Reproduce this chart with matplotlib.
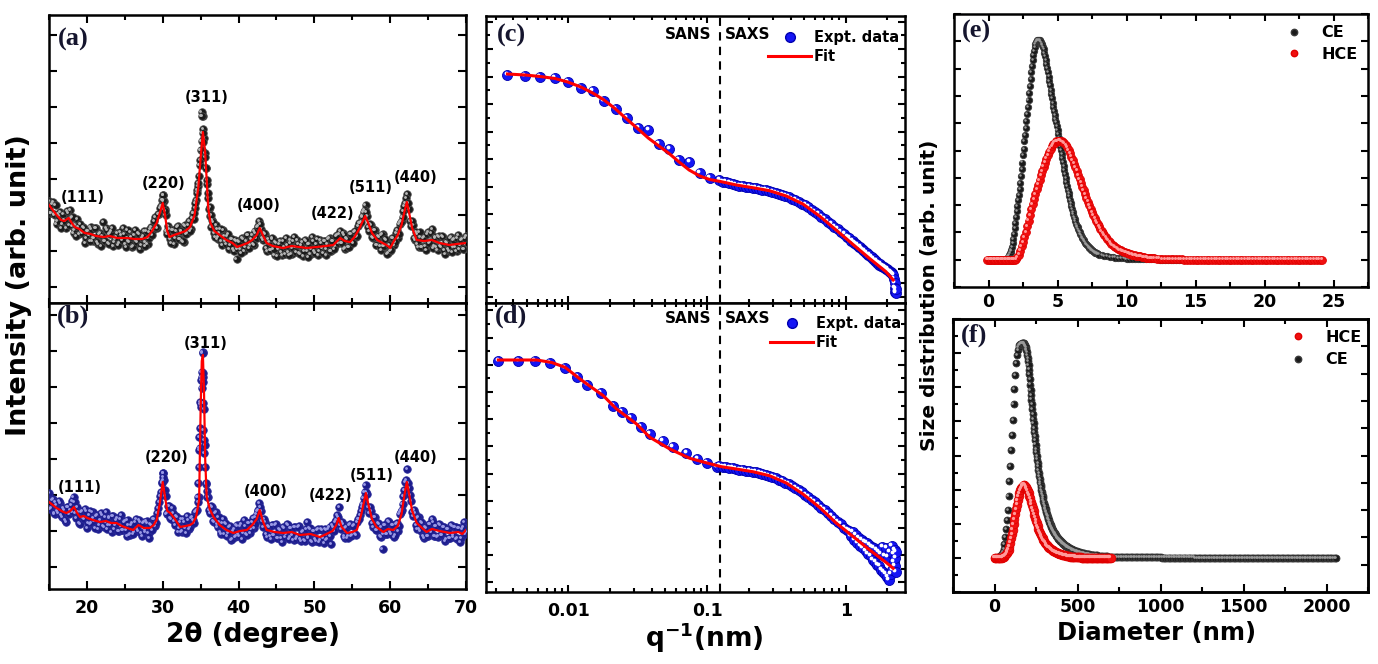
import numpy as np
import matplotlib
matplotlib.use("Agg")
import matplotlib.pyplot as plt
from matplotlib.lines import Line2D
from matplotlib.ticker import MultipleLocator, FixedLocator, LogLocator, NullFormatter
from matplotlib.transforms import ScaledTranslation

# ---------------- XRD, panels (a) and (b) ----------------
# counts are in arbitrary units (the axis has no labels)
# two interleaved scans: one on the 0.25 deg grid starting at 15.0, one half a step later
xrd_start, xrd_step = 15.0, 0.25

a_counts = [
    102, 90, 101, 88, 79, 89, 91, 79, 83, 75,
    90, 93, 77, 70, 78, 84, 69, 72, 76, 60,
    72, 68, 76, 62, 65, 75, 59, 70, 67, 62,
    75, 60, 69, 72, 57, 64, 70, 60, 68, 75,
    59, 65, 62, 71, 56, 68, 62, 70, 54, 65,
    72, 61, 59, 71, 76, 73, 86, 75, 89, 97,
    108, 94, 72, 77, 64, 73, 59, 72, 77, 64,
    72, 61, 77, 70, 82, 74, 90, 95, 113, 127,
    153, 187, 165, 135, 105, 87, 83, 70, 78, 64,
    70, 62, 73, 62, 67, 54, 64, 54, 63, 44,
    62, 54, 65, 52, 62, 68, 58, 68, 58, 70,
    76, 82, 74, 63, 69, 52, 61, 53, 64, 48,
    60, 54, 62, 48, 56, 65, 51, 60, 49, 62,
    56, 63, 50, 58, 47, 63, 52, 59, 49, 66,
    52, 59, 48, 63, 55, 62, 48, 59, 65, 52,
    62, 57, 68, 69, 60, 70, 54, 65, 56, 69,
    61, 71, 66, 77, 80, 86, 91, 98, 87, 72,
    78, 65, 73, 58, 66, 53, 69, 57, 63, 50,
    52, 65, 58, 70, 65, 79, 82, 92, 100, 109,
    94, 77, 78, 63, 69, 56, 66, 56, 66, 53,
    71, 61, 74, 57, 65, 53, 66, 56, 66, 49,
    60, 52, 66, 56, 64, 52, 68, 58, 64, 54,
    67]
a_counts_mid = [
    90, 99, 89, 98, 82, 87, 75, 89, 82, 92,
    78, 85, 86, 73, 67, 76, 79, 70, 75, 65,
    72, 62, 74, 65, 75, 61, 69, 57, 81, 62,
    73, 59, 70, 75, 61, 66, 58, 71, 63, 69,
    56, 73, 61, 66, 57, 73, 61, 69, 58, 67,
    57, 72, 65, 74, 68, 82, 76, 89, 95, 103,
    102, 88, 69, 74, 60, 73, 65, 76, 64, 72,
    62, 78, 69, 78, 72, 85, 84, 103, 117, 138,
    162, 174, 150, 119, 94, 76, 81, 66, 74, 66,
    74, 58, 67, 59, 69, 58, 64, 52, 62, 54,
    61, 50, 64, 56, 68, 55, 64, 59, 72, 65,
    77, 79, 65, 70, 55, 64, 53, 65, 54, 61,
    47, 59, 51, 62, 49, 58, 48, 63, 55, 66,
    51, 59, 49, 61, 52, 62, 46, 59, 54, 62,
    50, 64, 52, 60, 50, 62, 54, 64, 52, 62,
    54, 67, 60, 72, 60, 68, 55, 64, 56, 69,
    60, 72, 67, 80, 81, 87, 93, 91, 76, 79,
    66, 73, 58, 67, 57, 68, 57, 64, 49, 58,
    53, 65, 61, 73, 69, 81, 86, 97, 105, 100,
    82, 82, 65, 71, 59, 71, 56, 65, 57, 69,
    60, 70, 55, 66, 56, 67, 57, 67, 53, 61,
    54, 65, 51, 63, 56, 65, 54, 63, 54, 65]
# extra points stacked on the steep peak flanks
a_peak_tth = [34.06, 34.3, 34.49, 34.7, 34.92, 35.14, 35.14, 35.14, 35.27, 35.3,
              35.58, 35.71, 35.8, 36.0, 36.2, 36.4, 29.9, 30.0, 30.08, 30.3]
a_peak_counts = [90, 100, 110, 120, 143, 191, 187, 153, 170, 161,
                 146, 135, 123, 110, 96, 88, 97, 103, 108, 92]
a_fit_tth = [15.0, 15.5, 16.0, 16.6, 17.0, 17.6, 18.0, 18.4, 19.0, 19.7,
             20.5, 21.2, 22.2, 23.0, 24.0, 25.3, 26.3, 27.3, 28.0, 28.6,
             29.2, 29.7, 30.0, 30.3, 30.6, 30.9, 31.5, 32.3, 33.0, 33.6,
             34.2, 34.7, 35.0, 35.3, 35.6, 35.8, 36.0, 36.3, 36.8, 37.5,
             38.4, 39.2, 39.8, 40.5, 41.2, 41.8, 42.4, 42.8, 43.2, 43.7,
             44.5, 45.9, 47.0, 48.0, 49.0, 50.3, 51.5, 52.5, 53.4, 54.0,
             54.7, 55.3, 55.9, 56.4, 56.7, 57.1, 57.6, 58.3, 59.0, 59.5,
             60.0, 60.5, 61.0, 61.5, 61.9, 62.2, 62.5, 62.9, 63.5, 64.5,
             65.5, 66.5, 67.8, 68.8, 70.0]
a_fit_counts = [98, 93, 88, 83, 82, 85, 80, 76, 74, 70,
                69, 67, 66, 67, 65, 65, 64, 64, 66, 72,
                80, 92, 100, 88, 72, 66, 68, 70, 72, 76,
                88, 116, 145, 171, 150, 123, 95, 80, 72, 68,
                63, 60, 56, 58, 60, 63, 68, 75, 68, 60,
                57, 55, 57, 56, 55, 56, 57, 58, 65, 62,
                61, 66, 74, 82, 87, 80, 70, 63, 60, 58,
                55, 62, 68, 78, 92, 101, 90, 75, 63, 62,
                63, 60, 58, 59, 60]

b_counts = [
    96, 81, 90, 75, 84, 76, 86, 72, 79, 67,
    82, 79, 88, 92, 76, 82, 66, 77, 71, 80,
    61, 74, 65, 77, 68, 73, 60, 69, 74, 62,
    77, 64, 71, 57, 73, 64, 71, 58, 74, 59,
    68, 53, 64, 55, 66, 57, 70, 58, 67, 53,
    67, 59, 66, 51, 64, 70, 63, 76, 87, 97,
    116, 99, 75, 83, 71, 81, 68, 73, 57, 67,
    57, 70, 61, 73, 60, 71, 69, 77, 79, 92,
    185, 237, 180, 105, 92, 76, 82, 67, 77, 62,
    67, 55, 70, 66, 53, 62, 49, 58, 52, 64,
    55, 63, 50, 69, 55, 66, 56, 67, 61, 72,
    78, 86, 78, 62, 67, 52, 62, 50, 64, 54,
    65, 51, 59, 47, 61, 55, 64, 52, 61, 49,
    62, 52, 63, 48, 58, 48, 67, 51, 60, 47,
    58, 48, 60, 49, 59, 46, 59, 50, 62, 45,
    62, 67, 74, 82, 60, 65, 51, 62, 53, 65,
    54, 64, 54, 70, 74, 82, 91, 104, 95, 76,
    78, 62, 72, 59, 65, 52, 40, 64, 55, 68,
    57, 64, 52, 65, 58, 75, 79, 93, 107, 120,
    101, 88, 73, 76, 60, 72, 58, 66, 51, 61,
    53, 65, 70, 53, 63, 52, 65, 54, 62, 48,
    60, 51, 64, 54, 62, 50, 61, 47, 60, 67,
    57]
b_counts_mid = [
    80, 89, 76, 87, 78, 88, 74, 81, 69, 82,
    75, 84, 77, 87, 71, 77, 65, 78, 70, 78,
    66, 78, 66, 71, 61, 74, 64, 76, 63, 72,
    60, 72, 64, 73, 60, 69, 58, 70, 59, 67,
    59, 69, 54, 64, 55, 67, 60, 69, 56, 66,
    57, 68, 56, 65, 59, 70, 66, 81, 93, 107,
    109, 93, 76, 83, 70, 76, 64, 72, 61, 70,
    58, 67, 56, 69, 62, 72, 66, 78, 87, 141,
    212, 212, 144, 98, 79, 83, 68, 76, 65, 72,
    57, 66, 55, 65, 56, 63, 50, 60, 53, 63,
    53, 65, 56, 63, 54, 66, 60, 71, 65, 75,
    79, 82, 68, 70, 55, 63, 53, 64, 54, 64,
    51, 60, 51, 62, 52, 65, 50, 61, 54, 62,
    50, 62, 50, 57, 49, 60, 52, 61, 48, 58,
    50, 59, 47, 60, 51, 60, 49, 60, 53, 64,
    58, 69, 72, 64, 67, 53, 61, 51, 64, 53,
    63, 55, 67, 70, 78, 85, 97, 97, 82, 82,
    66, 72, 59, 66, 53, 62, 55, 64, 55, 67,
    55, 64, 54, 66, 63, 77, 85, 99, 109, 106,
    94, 77, 79, 64, 71, 60, 67, 53, 62, 53,
    65, 57, 67, 53, 63, 53, 64, 54, 62, 50,
    60, 51, 63, 52, 62, 51, 61, 51, 62, 55]
b_peak_tth = [35.27, 35.14, 35.36, 35.01, 35.27, 35.14, 34.92, 35.36, 35.05, 34.92,
              35.36, 34.84, 35.45, 34.84, 35.45, 34.77, 35.58, 34.7, 35.71, 34.6,
              35.8, 30.0, 30.08, 29.9]
b_peak_counts = [236, 217, 216, 209, 207, 201, 187, 186, 182, 161,
                 159, 152, 149, 139, 136, 122, 122, 106, 106, 92,
                 92, 116, 112, 106]
b_fit_tth = [15.0, 15.5, 16.0, 16.45, 16.9, 17.3, 17.8, 18.3, 18.7, 19.1,
             19.6, 20.05, 20.8, 21.7, 22.5, 23.2, 23.9, 24.6, 25.3, 26.1,
             26.8, 27.5, 28.3, 28.8, 29.2, 29.6, 30.0, 30.3, 30.6, 31.0,
             31.6, 32.3, 33.0, 33.6, 34.0, 34.4, 34.8, 35.0, 35.15, 35.3,
             35.45, 35.6, 35.8, 36.2, 36.7, 37.5, 38.4, 39.3, 40.2, 41.1,
             41.8, 42.4, 42.8, 43.2, 43.7, 44.8, 45.9, 47.0, 48.1, 49.5,
             50.75, 51.6, 52.4, 52.9, 53.2, 53.6, 54.3, 55.0, 55.6, 56.2,
             56.8, 57.2, 57.6, 58.2, 59.1, 59.7, 60.4, 61.0, 61.5, 61.9,
             62.2, 62.5, 62.9, 63.5, 64.2, 64.8, 65.5, 66.5, 67.9, 69.0,
             69.5, 70.0]
b_fit_counts = [87, 84, 81, 79, 77, 76, 78, 82, 76, 72,
                73, 71, 69, 67, 68, 66, 66, 63, 61, 59,
                64, 61, 61, 64, 69, 85, 107, 92, 78, 76,
                70, 62, 63, 64, 66, 72, 89, 180, 228, 234,
                195, 130, 92, 80, 72, 64, 59, 56, 58, 59,
                64, 70, 79, 68, 59, 57, 56, 57, 54, 55,
                52, 55, 58, 64, 71, 62, 56, 57, 59, 75,
                96, 82, 70, 62, 57, 60, 59, 63, 75, 95,
                107, 95, 78, 66, 61, 57, 60, 58, 56, 57,
                55, 59]

hkl_labels = ["(111)", "(220)", "(311)", "(400)", "(422)", "(511)", "(440)"]
a_hkl_pos = [(19.5, 105), (30.1, 120), (35.8, 205), (42.7, 97), (52.4, 89), (57.4, 116), (63.3, 125)]
b_hkl_pos = [(19.0, 102), (30.5, 131), (35.7, 246), (43.6, 97), (52.1, 93), (57.6, 113), (63.3, 132)]

# ---------------- SANS + SAXS, panels (c) and (d) ----------------
c_sans_q = [0.00364, 0.00488, 0.00626, 0.00802, 0.00991, 0.0123, 0.0150, 0.0181, 0.0219,
            0.0263, 0.0319, 0.0377, 0.0450, 0.0533, 0.0629, 0.0743, 0.0886, 0.1045]
c_sans_I = [228, 227, 226, 225, 221, 215, 212, 202, 194,
            185, 175, 173, 159, 154, 143, 141, 130, 125]
saxs_q = [0.123, 0.13, 0.137, 0.145, 0.153, 0.162, 0.171, 0.181, 0.191, 0.202,
          0.213, 0.225, 0.238, 0.251, 0.265, 0.28, 0.296, 0.312, 0.33, 0.348,
          0.368, 0.388, 0.41, 0.433, 0.457, 0.483, 0.51, 0.538, 0.568, 0.6,
          0.633, 0.668, 0.705, 0.745, 0.786, 0.83, 0.876, 0.925, 0.976, 1.03,
          1.06, 1.09, 1.12, 1.15, 1.18, 1.21, 1.24, 1.27, 1.30, 1.33,
          1.36, 1.39, 1.42, 1.45, 1.48, 1.51, 1.54, 1.57, 1.60, 1.63,
          1.66, 1.69, 1.72, 1.75, 1.78, 1.81, 1.84, 1.87, 1.90, 1.93,
          1.96, 1.99, 2.02, 2.05, 2.08, 2.11, 2.14, 2.17, 2.20, 2.23,
          2.25, 2.27, 2.28, 2.29, 2.30]
c_saxs_I = [123, 121, 121, 120, 119, 118, 117, 117, 116, 116,
            115, 115, 114, 113, 113, 112, 111, 110, 109, 108,
            107, 106, 104, 103, 101, 99, 98, 96, 93, 91,
            89, 86, 84, 81, 79, 76, 74, 71, 69, 66,
            65, 62, 62, 60, 59, 58, 56, 56, 54, 53,
            52, 50, 50, 48, 48, 46, 46, 44, 44, 42,
            42, 40, 40, 38, 39, 37, 37, 36, 36, 35,
            34, 34, 33, 32, 31, 31, 30, 29, 28, 24,
            20, 15, 11, 10, 14]
c_fit_q = [0.00364, 0.00488, 0.00626, 0.00802, 0.00991, 0.0123, 0.0150, 0.0181, 0.0219, 0.0263,
           0.0319, 0.0377, 0.0450, 0.0533, 0.0629, 0.0743, 0.0886, 0.1045, 0.125, 0.1627,
           0.214, 0.282, 0.373, 0.491, 0.647, 0.853, 1.125, 1.48, 1.95, 2.20]
c_fit_I = [229, 228, 226.5, 224.5, 221, 216, 210, 203, 194, 184,
           174, 165, 157, 149.5, 141, 133, 127, 123.5, 121.5, 118,
           115.3, 112.3, 107, 99, 87, 73, 58.7, 44.7, 31.3, 23]

d_sans_q = [0.00313, 0.00437, 0.00576, 0.00739, 0.00947, 0.01161, 0.0137, 0.0172, 0.0211, 0.0242,
            0.0283, 0.0332, 0.0387, 0.0478, 0.0569, 0.0711, 0.0853, 0.100, 0.118]
d_sans_I = [231, 231, 231, 229, 224, 215, 207, 199, 186, 180,
            174, 165, 158, 151, 145, 139, 133, 129, 125]
d_saxs_I = [126, 125, 125, 124, 124, 123, 122, 122, 121, 121,
            120, 120, 119, 118, 117, 116, 115, 114, 112, 111,
            109, 108, 106, 104, 102, 100, 97, 95, 92, 90,
            87, 84, 82, 79, 76, 73, 70, 68, 64, 62,
            61, 56, 60, 52, 57, 49, 54, 46, 52, 44,
            50, 41, 49, 38, 47, 36, 45, 32, 44, 30,
            42, 27, 40, 26, 38, 22, 45, 20, 36, 18,
            44, 15, 35, 12, 40, 18, 46, 22, 38, 30,
            42, 26, 34, 20, 40]
d_fit_q = [0.00313, 0.00593, 0.0076, 0.00947, 0.01214, 0.01787, 0.02228, 0.03105, 0.0387, 0.0539,
           0.0751, 0.100, 0.127, 0.1627, 0.214, 0.282, 0.373, 0.491, 0.647, 0.853,
           1.125, 1.48, 1.95, 2.20]
d_fit_I = [232, 232, 229.5, 224.7, 213, 196.3, 183, 168, 154.7, 143,
           133.7, 129, 125.3, 123, 120.3, 116.3, 109, 98, 84.7, 69,
           55.7, 42.3, 29.7, 23.7]
sans_saxs_q = 0.1248

# ---------------- size distributions, panels (e) and (f) ----------------
# each piece: (first diameter, step, values)
e_ce_parts = [
    (0.0, 0.2, [0, 0, 0, 0, 0, 0, 0]),
    (1.25, 0.05, [
        0.01, 0.02, 0.05, 0.08, 0.12, 0.18, 0.24, 0.30, 0.37, 0.46,
        0.60, 0.76, 0.95, 1.16, 1.36, 1.57, 1.77, 1.97, 2.18, 2.38,
        2.59, 2.80, 3.05, 3.31, 3.56, 3.82, 4.07, 4.33, 4.58, 4.83,
        5.09, 5.34, 5.59, 5.85, 6.10, 6.36, 6.61, 6.86, 7.10, 7.31,
        7.50, 7.66, 7.79, 7.89, 7.96, 8.01, 8.04, 8.05, 8.05, 8.03,
        8.00, 7.96, 7.91, 7.86, 7.79, 7.70, 7.58, 7.45, 7.32, 7.18,
        7.03, 6.87, 6.71, 6.55, 6.39, 6.23, 6.07, 5.91, 5.75, 5.59,
        5.45, 5.31, 5.17, 5.03, 4.89, 4.75, 4.61, 4.47, 4.33, 4.18,
        4.03, 3.88, 3.73, 3.58, 3.43, 3.28, 3.13, 2.98, 2.83, 2.70,
        2.57, 2.44, 2.32, 2.20, 2.08, 1.97, 1.86, 1.76, 1.66, 1.57,
        1.48, 1.40, 1.32, 1.25, 1.18, 1.12, 1.06, 1.00, 0.94, 0.89,
        0.84, 0.79, 0.75, 0.71, 0.67, 0.63, 0.59, 0.56, 0.53, 0.50,
        0.47, 0.44, 0.42, 0.39, 0.37, 0.35, 0.33, 0.31, 0.29, 0.27,
        0.26, 0.24, 0.23, 0.21, 0.20, 0.19]),
    (8.2, 0.2, [
        0.17, 0.15, 0.13, 0.11, 0.09, 0.08, 0.07, 0.06, 0.05, 0.04,
        0.04, 0.03, 0.03, 0.02, 0.02, 0.02, 0.01, 0.01, 0.01, 0.01,
        0.01, 0, 0, 0, 0, 0, 0, 0, 0, 0]),
]
e_hce_parts = [
    (-0.1, 0.1, [
        0, 0, 0, 0, 0, 0, 0, 0, 0, 0,
        0, 0, 0, 0, 0, 0, 0, 0, 0, 0,
        0,
        0.03, 0.09, 0.19, 0.33, 0.49, 0.65, 0.83, 1.02, 1.22, 1.43,
        1.64, 1.84, 2.04, 2.23, 2.41, 2.58, 2.75, 2.92, 3.09, 3.25,
        3.41, 3.56, 3.70, 3.83, 3.96, 4.07, 4.16, 4.24, 4.29, 4.33,
        4.35, 4.36, 4.36, 4.34, 4.31, 4.26, 4.19, 4.11, 4.02, 3.91,
        3.78, 3.65, 3.52, 3.39, 3.26, 3.11, 2.96, 2.82, 2.68, 2.54,
        2.40, 2.26, 2.13, 2.00, 1.87, 1.75, 1.63, 1.52, 1.42, 1.32,
        1.23, 1.14, 1.06, 0.98, 0.90, 0.83, 0.76, 0.70, 0.64, 0.58,
        0.53, 0.49, 0.45, 0.42, 0.39, 0.36, 0.34, 0.32, 0.30, 0.28,
        0.26, 0.24, 0.22, 0.21, 0.19, 0.18, 0.16, 0.15, 0.14, 0.13,
        0.12, 0.11, 0.10, 0.09, 0.08, 0.08, 0.07, 0.06, 0.06, 0.05,
        0.05]),
    (12.2, 0.2, [0.04, 0.04, 0.03, 0.03, 0.02, 0.02, 0.02, 0.01, 0.01, 0.01]
     + [0] * 51),
]
f_ce_parts = [
    (0.0, 5.0, [
        0.00, 0.01, 0.01, 0.01, 0.02, 0.02, 0.03, 0.05, 0.08, 0.12,
        0.18, 0.26, 0.40, 0.60, 0.85, 1.12, 1.40, 1.80, 2.25, 2.70,
        3.15, 3.60, 4.05, 4.50, 4.95, 5.35, 5.70, 5.95, 6.10, 6.18,
        6.23, 6.26, 6.28, 6.29, 6.30]),
    (172.5, 2.5, [
        6.30, 6.29, 6.28, 6.26, 6.24, 6.21, 6.17, 6.13, 6.08, 6.02,
        5.95, 5.86, 5.76, 5.65, 5.52, 5.38, 5.23, 5.08, 4.93, 4.78,
        4.64, 4.50, 4.35, 4.21, 4.07, 3.94, 3.81, 3.68, 3.56, 3.44,
        3.32, 3.20, 3.09, 2.98, 2.88, 2.78, 2.68, 2.58, 2.49, 2.40,
        2.31, 2.23, 2.15, 2.07, 2.00, 1.93, 1.86, 1.80, 1.74, 1.68,
        1.62, 1.57, 1.52, 1.47, 1.42, 1.38, 1.33, 1.29, 1.25, 1.21,
        1.17, 1.13, 1.10, 1.06, 1.03, 1.00, 0.97, 0.94, 0.91, 0.88,
        0.85, 0.83, 0.80, 0.78, 0.76, 0.74, 0.72, 0.70, 0.68, 0.66,
        0.64, 0.62, 0.60, 0.59, 0.57, 0.56, 0.54, 0.53, 0.51, 0.50,
        0.49, 0.48, 0.47, 0.46, 0.44, 0.43, 0.42, 0.41, 0.40, 0.39,
        0.38, 0.37, 0.36, 0.35, 0.35, 0.34, 0.33, 0.32, 0.31, 0.31,
        0.30, 0.29]),
    (455.0, 5.0, [
        0.28, 0.27, 0.25, 0.24, 0.23, 0.22, 0.21, 0.20, 0.19, 0.18,
        0.17, 0.17, 0.16, 0.15, 0.15, 0.14, 0.13, 0.13, 0.12, 0.12,
        0.11, 0.11, 0.10, 0.10, 0.09, 0.09, 0.09, 0.08, 0.08, 0.08]),
    (610.0, 10.0, [0.07, 0.07, 0.06, 0.06, 0.06, 0.05, 0.05, 0.05, 0.04, 0.04,
                   0.04, 0.04, 0.03, 0.03, 0.03, 0.03, 0.03, 0.03, 0.02, 0.02]
     + [0.02] * 20 + [0.01] * 20 + [0] * 86),
]
f_hce_parts = [
    (0.0, 5.0, [
        0, 0, 0, 0, 0, 0, 0, 0, 0.01, 0.01,
        0.02, 0.03, 0.05, 0.08, 0.11, 0.15, 0.19, 0.24, 0.33, 0.45,
        0.57, 0.69, 0.83, 0.98, 1.13, 1.28, 1.42, 1.56, 1.69, 1.80,
        1.90, 1.98, 2.05, 2.09, 2.12, 2.14, 2.14, 2.12, 2.08, 2.03,
        1.97, 1.90, 1.82, 1.74, 1.65, 1.56, 1.46, 1.36, 1.27, 1.18,
        1.09, 1.01, 0.93, 0.86, 0.79, 0.73, 0.67, 0.62, 0.57, 0.52,
        0.48, 0.44, 0.41, 0.38, 0.35, 0.32, 0.30, 0.28, 0.26, 0.24,
        0.22, 0.20, 0.19, 0.17, 0.16, 0.15, 0.14, 0.13, 0.12, 0.11,
        0.10, 0.09, 0.09, 0.08, 0.07, 0.07, 0.06, 0.06, 0.05, 0.05,
        0.05, 0.04, 0.04, 0.04, 0.03, 0.03, 0.03, 0.03, 0.02, 0.02,
        0.02, 0.02, 0.02, 0.02, 0.02, 0.01, 0.01, 0.01, 0.01, 0.01,
        0.01, 0.01, 0.01, 0.01, 0.01, 0.01, 0, 0, 0, 0,
        0, 0, 0, 0, 0, 0, 0, 0, 0, 0,
        0, 0, 0, 0, 0, 0, 0, 0, 0, 0,
        0]),
]

W, H = 1378, 664
BLUE = "#1515f5"
NAVY = "#1c1c8c"


def unpack(parts):
    xs, ys = [], []
    for start, step, vals in parts:
        xs.append(start + step * np.arange(len(vals)))
        ys.append(np.asarray(vals, dtype=float))
    return np.concatenate(xs), np.concatenate(ys)


def box(l, t, r, b):
    return [l / W, 1 - b / H, (r - l) / W, (b - t) / H]


def balls(ax, x, y, face, edge, shine, ms, z=3):
    # shaded spheres: a dark dot plus a small light spot up and to the left
    ax.plot(x, y, "o", ls="none", ms=ms, mfc=face, mec=edge, mew=0.6, zorder=z)
    off = ScaledTranslation(-ms * 0.16 / 72, ms * 0.16 / 72, ax.figure.dpi_scale_trans)
    ax.plot(x, y, "o", ls="none", ms=ms * 0.38, mfc=shine, mec="none",
            transform=ax.transData + off, zorder=z + 0.1)


def frame(ax, right=True):
    for s in ax.spines.values():
        s.set_linewidth(1.8)
    ax.tick_params(which="both", direction="in", top=True, right=right, width=1.5)
    ax.tick_params(which="major", length=6)
    ax.tick_params(which="minor", length=3.5)
    ax.tick_params(axis="y", labelleft=False)


def panel_tag(ax, tag, x, y):
    ax.text(x, y, tag, transform=ax.transAxes, ha="left", va="center",
            family="Liberation Serif", fontweight="bold", fontsize=19, color="#15152e")


def draw_xrd(ax, counts, counts_mid, peak_tth, peak_counts, fit_tth, fit_counts, hkl_pos,
             face, edge, shine, tag, tag_xy, ylim, ytick0):
    tth = xrd_start + xrd_step * np.arange(len(counts))
    tth_mid = xrd_start + xrd_step / 2 + xrd_step * np.arange(len(counts_mid))
    x_all = np.concatenate([tth, tth_mid, peak_tth])
    y_all = np.concatenate([counts, counts_mid, peak_counts])
    balls(ax, x_all, y_all, face, edge, shine, 5.4)
    ax.plot(fit_tth, fit_counts, color="red", lw=1.6, zorder=5)
    for lab, (xx, yy) in zip(hkl_labels, hkl_pos):
        ax.text(xx, yy, lab, ha="center", va="center", fontsize=10.5, fontweight="bold")
    ax.set_xlim(15, 70)
    ax.set_ylim(*ylim)
    ax.xaxis.set_major_locator(MultipleLocator(10))
    ax.xaxis.set_minor_locator(MultipleLocator(5))
    ax.yaxis.set_major_locator(FixedLocator(np.arange(ytick0, ylim[1], 36)))
    frame(ax)
    panel_tag(ax, tag, *tag_xy)


def draw_scatter(ax, sans_q, sans_I, saxs_I, fit_q, fit_I, ylim, tick0, tstep,
                 tag, tag_xy, txt_y, leg_anchor):
    balls(ax, sans_q, sans_I, BLUE, "#0000b0", "white", 7.2)
    balls(ax, saxs_q, saxs_I, BLUE, "#0000b0", "white", 7.2)
    ax.plot(fit_q, fit_I, color="red", lw=2.2, zorder=5)
    ax.axvline(sans_saxs_q, color="black", ls=(0, (4, 3)), lw=1.5, zorder=2)
    ax.set_xscale("log")
    ax.set_xlim(0.00255, 2.676)
    ax.set_ylim(*ylim)
    ax.xaxis.set_major_locator(FixedLocator([0.01, 0.1, 1]))
    ax.xaxis.set_minor_locator(LogLocator(base=10, subs=np.arange(2, 10)))
    ax.xaxis.set_minor_formatter(NullFormatter())
    ax.set_xticklabels(["0.01", "0.1", "1"])
    ax.yaxis.set_major_locator(FixedLocator(np.arange(tick0, ylim[1], tstep)))
    ax.yaxis.set_minor_locator(FixedLocator(np.arange(tick0 + tstep / 2, ylim[1], tstep)))
    frame(ax)
    ax.tick_params(which="major", length=5)
    ax.tick_params(which="minor", length=3)
    ax.text(0.1076, txt_y, "SANS", ha="right", va="center", fontsize=11, fontweight="bold")
    ax.text(0.1341, txt_y, "SAXS", ha="left", va="center", fontsize=11, fontweight="bold")
    handles = [Line2D([], [], ls="none", marker="o", ms=7, mfc=BLUE, mec="#0000b0"),
               Line2D([], [], color="red", lw=2.2)]
    ax.legend(handles, ["Expt. data", "Fit"], loc="upper right", bbox_to_anchor=leg_anchor,
              frameon=False, fontsize=10.5, handlelength=2.9, handletextpad=0.2,
              labelspacing=0.25, borderpad=0, borderaxespad=0)
    panel_tag(ax, tag, *tag_xy)


def main() -> None:
    plt.rcParams["font.family"] = ["DejaVu Sans"]
    plt.rcParams["font.weight"] = "bold"
    plt.rcParams["axes.labelweight"] = "bold"
    plt.rcParams["mathtext.default"] = "bf"

    fig = plt.figure(figsize=(W / 100, H / 100), dpi=100)
    ax_a = fig.add_axes(box(49, 15, 466, 303))
    ax_b = fig.add_axes(box(49, 303, 466, 589))
    ax_c = fig.add_axes(box(486, 16, 905, 303))
    ax_d = fig.add_axes(box(486, 303, 905, 592))
    ax_e = fig.add_axes(box(954, 14, 1368, 287))
    ax_f = fig.add_axes(box(953, 319, 1368, 592))

    # XRD
    draw_xrd(ax_a, a_counts, a_counts_mid, a_peak_tth, a_peak_counts, a_fit_tth, a_fit_counts,
             a_hkl_pos, "#1b1b1b", "#4a4a4a", "#b8b8b8", "(a)", (0.022, 0.915), (0, 288), 16)
    ax_a.tick_params(axis="x", labelbottom=False)
    draw_xrd(ax_b, b_counts, b_counts_mid, b_peak_tth, b_peak_counts, b_fit_tth, b_fit_counts,
             b_hkl_pos, NAVY, "#2a2a9a", "#9a9ae6", "(b)", (0.02, 0.955), (0, 286), 22)
    ax_b.tick_params(axis="x", labelsize=12.5, pad=7)

    # SANS / SAXS
    draw_scatter(ax_c, c_sans_q, c_sans_I, c_saxs_I, c_fit_q, c_fit_I, (0, 287), 6.3, 27.5,
                 "(c)", (0.027, 0.932), 268.5, (0.985, 0.95))
    ax_c.tick_params(axis="x", labelbottom=False)
    draw_scatter(ax_d, d_sans_q, d_sans_I, d_saxs_I, d_fit_q, d_fit_I, (0, 289), 9.7, 27.2,
                 "(d)", (0.02, 0.955), 273, (0.99, 0.955))
    ax_d.tick_params(axis="x", labelsize=12.5, pad=7)

    # size distributions
    e_ce_d, e_ce_v = unpack(e_ce_parts)
    e_hce_d, e_hce_v = unpack(e_hce_parts)
    balls(ax_e, e_ce_d, e_ce_v, "#1a1a1a", "#3a3a3a", "#9a9a9a", 4.6, z=3)
    balls(ax_e, e_hce_d, e_hce_v, "#f01010", "#e00000", "#ff9a9a", 5.6, z=4)
    ax_e.set_xlim(-2.5, 27.5)
    ax_e.set_ylim(-1, 9)
    ax_e.xaxis.set_major_locator(MultipleLocator(5))
    ax_e.xaxis.set_minor_locator(MultipleLocator(2.5))
    ax_e.yaxis.set_major_locator(MultipleLocator(1))
    frame(ax_e)
    ax_e.tick_params(which="major", length=5)
    ax_e.tick_params(axis="x", labelsize=12.5, pad=4)
    h_e = [Line2D([], [], ls="none", marker="o", ms=4.6, mfc="#1a1a1a", mec="#3a3a3a"),
           Line2D([], [], ls="none", marker="o", ms=4.6, mfc="#f01010", mec="#e00000")]
    ax_e.legend(h_e, ["CE", "HCE"], loc="upper right", bbox_to_anchor=(0.975, 0.958),
                frameon=False, fontsize=11.5, handlelength=2.0, handletextpad=0.7,
                labelspacing=0.4, borderpad=0, borderaxespad=0)
    panel_tag(ax_e, "(e)", 0.02, 0.935)

    f_ce_d, f_ce_v = unpack(f_ce_parts)
    f_hce_d, f_hce_v = unpack(f_hce_parts)
    balls(ax_f, f_ce_d, f_ce_v, "#1a1a1a", "#3a3a3a", "#9a9a9a", 5.0, z=3)
    balls(ax_f, f_hce_d, f_hce_v, "#f01010", "#e00000", "#ff9a9a", 6.2, z=4)
    ax_f.set_xlim(-250, 2250)
    ax_f.set_ylim(-1, 7)
    ax_f.xaxis.set_major_locator(MultipleLocator(500))
    ax_f.xaxis.set_minor_locator(MultipleLocator(250))
    ax_f.yaxis.set_major_locator(MultipleLocator(1))
    ax_f.yaxis.set_minor_locator(FixedLocator(np.arange(-0.5, 7, 1)))
    frame(ax_f, right=False)
    ax_f.tick_params(which="major", length=6)
    ax_f.tick_params(axis="x", labelsize=12.5, pad=4)
    ax_f2 = ax_f.twinx()
    ax_f2.set_ylim(-1, 7)
    ax_f2.yaxis.set_major_locator(FixedLocator(np.arange(-0.2, 6.3, 0.8)))
    ax_f2.tick_params(direction="in", length=5, width=1.5, labelright=False)
    for s in ax_f2.spines.values():
        s.set_linewidth(1.8)
    h_f = [Line2D([], [], ls="none", marker="o", ms=4.6, mfc="#f01010", mec="#e00000"),
           Line2D([], [], ls="none", marker="o", ms=4.6, mfc="#1a1a1a", mec="#3a3a3a")]
    ax_f.legend(h_f, ["HCE", "CE"], loc="upper right", bbox_to_anchor=(0.985, 0.96),
                frameon=False, fontsize=11.5, handlelength=2.0, handletextpad=0.7,
                labelspacing=0.45, borderpad=0, borderaxespad=0)
    panel_tag(ax_f, "(f)", 0.02, 0.94)

    # shared axis titles
    fig.text(19 / W, 1 - 285 / H, "Intensity (arb. unit)", rotation=90, ha="center",
             va="center", fontsize=19.5, fontweight="bold")
    fig.text(253 / W, 1 - 635 / H, "2θ (degree)", ha="center", va="center",
             fontsize=19, fontweight="bold")
    fig.text(704 / W, 1 - 638 / H, r"q$^{-1}$(nm)", ha="center", va="center",
             fontsize=19, fontweight="bold")
    fig.text(929 / W, 1 - 295 / H, "Size distribution (arb. unit)", rotation=90,
             ha="center", va="center", fontsize=14.5, fontweight="bold")
    fig.text(1157 / W, 1 - 633 / H, "Diameter (nm)", ha="center", va="center",
             fontsize=17.5, fontweight="bold")

    fig.savefig("out.png", dpi=100)


if __name__ == "__main__":
    main()
